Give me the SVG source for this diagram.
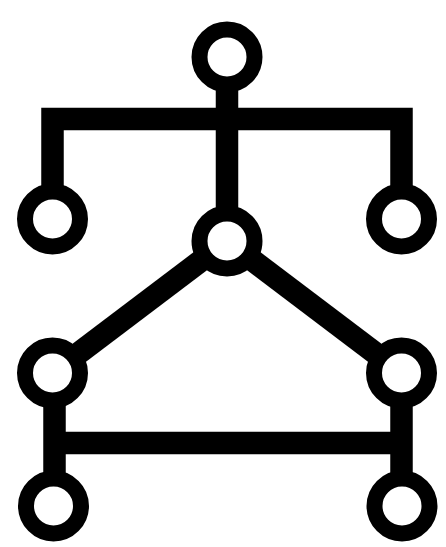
<svg xmlns="http://www.w3.org/2000/svg" width="446" height="547" viewBox="0 0 446 547">
<style>
.c{fill:none;stroke:#000;stroke-width:22.5;stroke-linejoin:miter;stroke-linecap:butt}
.n{fill:#fff;stroke:#000;stroke-width:16}
</style>
<rect width="446" height="547" fill="#fff"/>
<g id="connectors">
<polyline class="c" points="52.5,210 52.5,119 401.5,119 401.5,210"/>
<line class="c" x1="227" y1="60" x2="227" y2="241"/>
<line class="c" x1="227" y1="241" x2="52.5" y2="373" stroke-width="21"/>
<line class="c" x1="227" y1="241" x2="401.5" y2="373" stroke-width="21"/>
<line class="c" x1="54.5" y1="373" x2="54.5" y2="506"/>
<line class="c" x1="401.5" y1="373" x2="401.5" y2="506"/>
<line class="c" x1="54.5" y1="443" x2="401.5" y2="443"/>
</g>
<g id="top"><circle class="n" cx="227" cy="57" r="27.5"/></g>
<g id="left"><circle class="n" cx="52.5" cy="219" r="27.5"/></g>
<g id="right"><circle class="n" cx="401.5" cy="219" r="27.5"/></g>
<g id="center"><circle class="n" cx="227" cy="241" r="27.5"/></g>
<g id="midleft"><circle class="n" cx="52.5" cy="373" r="27.5"/></g>
<g id="midright"><circle class="n" cx="401.5" cy="373" r="27.5"/></g>
<g id="botleft"><circle class="n" cx="53.5" cy="506" r="27.5"/></g>
<g id="botright"><circle class="n" cx="402" cy="506" r="27.5"/></g>
</svg>
